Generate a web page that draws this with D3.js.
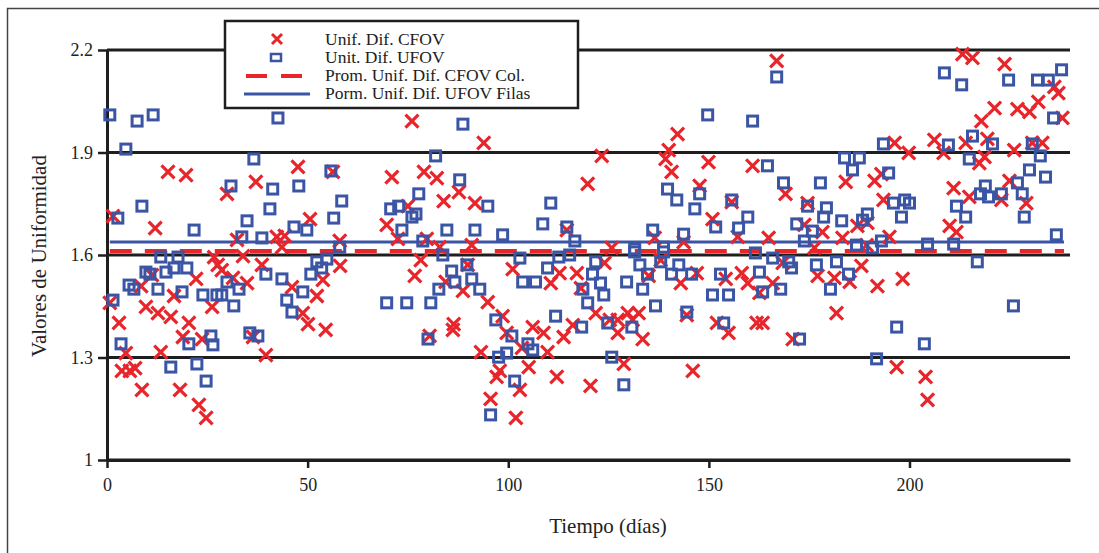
<!DOCTYPE html>
<html lang="es">
<head>
<meta charset="utf-8">
<title>Valores de Uniformidad</title>
<style>
  body { margin: 0; background: #fff; }
  text { font-family: "Liberation Serif", "Times New Roman", serif; fill: #222; }
</style>
</head>
<body>
<script src="https://cdn.jsdelivr.net/npm/d3@7"></script>
<div id="chart"></div>
<script>
// datos: [dia, valor]
const cfovPoints = [
  [15.2,1.843],[19.7,1.834],[47.6,1.858],[37.1,1.814],[29.9,1.779],[1.5,1.714],[12.0,1.679],
  [50.6,1.705],[42.3,1.653],[44.3,1.656],[32.4,1.644],[56.3,1.843],[58.0,1.641],[43.6,1.623],
  [76.0,1.992],[93.9,1.928],[71.0,1.828],[79.0,1.843],[82.2,1.825],[87.7,1.784],[83.9,1.758],
  [91.7,1.752],[75.0,1.743],[69.7,1.688],[72.5,1.647],[79.7,1.647],[82.9,1.623],[90.9,1.629],
  [114.6,1.673],[119.8,1.808],[166.9,2.168],[123.3,1.890],[142.2,1.954],[140.0,1.907],
  [139.2,1.881],[140.7,1.843],[149.9,1.872],[160.9,1.861],[147.7,1.802],[169.1,1.779],
  [155.7,1.755],[150.9,1.705],[174.6,1.752],[173.8,1.688],[157.2,1.653],[164.9,1.650],
  [136.5,1.650],[143.7,1.638],[125.8,1.621],[178.3,1.667],[176.3,1.621],
  [213.2,2.188],[215.7,2.177],[223.7,2.159],[236.1,2.092],[237.1,2.074],[232.1,2.048],
  [229.9,2.019],[226.9,2.027],[221.2,2.030],[217.9,1.992],[238.1,2.001],[196.3,1.928],
  [199.8,1.899],[206.2,1.937],[208.5,1.899],[214.0,1.928],[219.4,1.940],[218.7,1.887],
  [217.4,1.869],[226.1,1.907],[230.6,1.928],[233.1,1.928],[184.1,1.814],[191.3,1.817],
  [193.0,1.837],[193.5,1.761],[211.0,1.796],[214.9,1.770],[222.9,1.761],[224.9,1.817],
  [229.1,1.752],[183.3,1.650],[187.0,1.685],[189.5,1.694],[195.0,1.653],[210.0,1.685],
  [211.7,1.667],[189.3,1.629],
  [26.7,1.594],[33.9,1.597],[27.6,1.571],[28.6,1.556],[38.6,1.571],[22.2,1.530],[34.9,1.518],
  [31.4,1.533],[46.1,1.506],[53.8,1.527],[58.1,1.568],[52.3,1.480],[8.5,1.509],[11.2,1.541],
  [16.7,1.480],[0.7,1.460],[9.7,1.448],[12.7,1.430],[15.9,1.419],[26.2,1.448],[48.8,1.430],
  [50.1,1.398],[54.5,1.381],[3.0,1.401],[20.4,1.401],[18.9,1.360],[23.7,1.354],[36.4,1.360],
  [4.7,1.313],[13.4,1.316],[39.6,1.307],[3.7,1.261],[5.7,1.261],[7.0,1.269],[8.7,1.205],
  [18.2,1.205],[22.9,1.161],[24.7,1.123],
  [78.2,1.585],[76.7,1.539],[84.4,1.521],[88.7,1.495],[89.9,1.571],[94.9,1.462],[101.1,1.559],
  [110.6,1.518],[112.8,1.547],[117.1,1.547],[118.1,1.503],[80.4,1.363],[86.4,1.398],
  [86.2,1.381],[98.6,1.421],[99.6,1.372],[106.1,1.389],[108.8,1.372],[113.8,1.360],
  [116.1,1.395],[93.2,1.316],[103.4,1.328],[109.8,1.316],[97.9,1.261],[97.1,1.243],
  [105.1,1.272],[102.9,1.205],[112.1,1.243],[95.6,1.179],[101.9,1.123],[120.5,1.217],
  [124.0,1.577],[138.0,1.585],[135.0,1.539],[143.0,1.518],[147.0,1.547],[154.2,1.530],
  [158.2,1.547],[159.7,1.518],[162.6,1.489],[165.9,1.518],[168.4,1.577],[177.1,1.539],
  [121.8,1.430],[125.3,1.410],[127.3,1.410],[127.3,1.372],[129.8,1.430],[132.5,1.430],
  [131.0,1.410],[133.5,1.354],[144.5,1.424],[152.0,1.401],[154.9,1.372],[161.9,1.401],
  [163.4,1.401],[170.9,1.354],[128.8,1.281],[146.0,1.261],
  [188.0,1.568],[181.3,1.533],[185.1,1.521],[192.0,1.509],[198.3,1.530],[181.8,1.430],
  [196.8,1.272],[204.0,1.243],[204.5,1.176]
];

const ufovPoints = [
  [0.7,2.010],[7.5,1.992],[11.5,2.010],[42.6,2.001],[4.7,1.910],[36.6,1.881],[55.8,1.846],
  [30.9,1.802],[41.3,1.793],[47.8,1.802],[8.7,1.743],[58.5,1.758],[2.7,1.708],[40.6,1.735],
  [34.9,1.700],[56.5,1.708],[21.7,1.673],[46.6,1.682],[49.8,1.673],[33.6,1.653],[38.6,1.650],
  [58.0,1.623],
  [88.7,1.983],[81.9,1.890],[87.9,1.820],[77.7,1.779],[70.7,1.735],[72.7,1.743],[94.9,1.743],
  [110.6,1.752],[76.0,1.711],[77.0,1.720],[108.6,1.691],[73.5,1.673],[84.7,1.673],[91.7,1.673],
  [98.6,1.659],[114.6,1.682],[116.6,1.641],[78.7,1.641],
  [166.9,2.121],[149.7,2.010],[160.9,1.992],[164.6,1.861],[139.7,1.793],[142.0,1.761],
  [147.7,1.779],[146.5,1.735],[155.7,1.761],[159.7,1.711],[151.7,1.682],[157.4,1.679],
  [136.0,1.673],[143.7,1.661],[131.5,1.618],[138.7,1.623],[168.6,1.811],[177.8,1.811],
  [174.6,1.743],[179.3,1.738],[178.6,1.711],[171.9,1.691],[175.8,1.670],[173.8,1.641],
  [161.6,1.606],
  [208.7,2.133],[213.0,2.098],[224.7,2.112],[231.9,2.112],[234.6,2.112],[237.9,2.142],
  [235.9,2.001],[215.7,1.948],[193.5,1.925],[209.7,1.922],[220.7,1.925],[230.6,1.925],
  [232.6,1.890],[183.8,1.884],[187.5,1.884],[185.8,1.849],[214.9,1.881],[194.8,1.840],
  [229.9,1.849],[233.9,1.828],[218.9,1.802],[217.7,1.779],[219.7,1.770],[222.9,1.779],
  [226.9,1.811],[228.1,1.779],[196.0,1.752],[198.8,1.761],[200.0,1.752],[183.1,1.700],
  [189.5,1.720],[188.3,1.702],[198.0,1.711],[211.7,1.743],[214.0,1.711],[228.6,1.711],
  [236.6,1.659],[186.8,1.629],[190.8,1.621],[193.0,1.641],[204.5,1.632],[211.0,1.632],
  [13.4,1.594],[17.7,1.594],[16.7,1.562],[19.9,1.562],[14.7,1.550],[9.7,1.550],[10.7,1.544],
  [5.5,1.512],[6.7,1.500],[12.7,1.500],[18.7,1.492],[23.9,1.483],[27.4,1.483],[28.6,1.483],
  [29.9,1.521],[32.9,1.500],[31.6,1.451],[39.6,1.544],[43.6,1.530],[50.8,1.544],[52.3,1.580],
  [54.8,1.588],[53.5,1.562],[48.8,1.492],[44.8,1.468],[46.1,1.433],[1.5,1.468],[3.5,1.340],
  [20.4,1.340],[25.9,1.363],[26.4,1.337],[35.6,1.372],[37.6,1.363],[15.9,1.272],[22.4,1.281],
  [24.7,1.231],
  [83.7,1.600],[89.7,1.571],[85.9,1.553],[86.7,1.521],[90.9,1.530],[92.9,1.500],[82.7,1.500],
  [69.7,1.460],[74.7,1.460],[80.7,1.460],[102.9,1.591],[109.8,1.562],[103.6,1.521],
  [106.8,1.521],[112.6,1.594],[115.3,1.600],[118.6,1.500],[111.8,1.421],[119.8,1.460],
  [118.3,1.389],[96.9,1.410],[100.9,1.363],[104.9,1.340],[106.1,1.322],[99.6,1.313],
  [97.6,1.301],[80.0,1.354],[101.6,1.231],[95.6,1.132],
  [121.8,1.580],[121.0,1.544],[123.0,1.518],[123.8,1.483],[132.8,1.571],[138.0,1.580],
  [142.5,1.571],[134.7,1.544],[140.7,1.544],[145.7,1.544],[152.9,1.544],[131.5,1.609],
  [138.7,1.609],[129.5,1.521],[133.5,1.500],[136.7,1.451],[144.5,1.433],[150.9,1.483],
  [154.9,1.483],[162.6,1.550],[165.9,1.591],[169.9,1.580],[170.6,1.562],[176.8,1.571],
  [163.4,1.492],[167.9,1.500],[180.3,1.500],[124.8,1.401],[130.8,1.389],[153.7,1.401],
  [172.6,1.354],[125.8,1.301],[128.8,1.220],
  [181.8,1.580],[184.8,1.544],[196.8,1.389],[203.7,1.340],[191.8,1.296],[216.9,1.580],
  [225.9,1.451]
];

// promedios (linea horizontal de dia inicial a dia final)
const meanDays = [0.7, 238.5];
const meanCfov = 1.612;
const meanUfov = 1.638;

const xTicks = [0, 50, 100, 150, 200];
const yTicks = [1, 1.3, 1.6, 1.9, 2.2];

const legendLabels = [
  "Unif. Dif. CFOV",
  "Unit. Dif. UFOV",
  "Prom. Unif. Dif. CFOV Col.",
  "Porm. Unif. Dif. UFOV Filas"
];

var width = 1099, height = 553;
var red = "#e8252b", blue = "#3b55a5", ink = "#1e1e1e";

var svg = d3.select("#chart").append("svg")
    .attr("width", width)
    .attr("height", height);

// marco de la figura
svg.append("path")
    .attr("d", "M7.5,553 L7.5,8.5 L1099,8.5")
    .attr("fill", "none")
    .attr("stroke", "#444")
    .attr("stroke-width", 1.5);

var x = d3.scaleLinear().domain([0, 240]).range([107, 1070]);
var y = d3.scaleLinear().domain([1, 2.2]).range([460, 50]);

// lineas de rejilla
svg.selectAll(".grid")
    .data(yTicks)
    .enter()
    .append("line")
    .attr("class", "grid")
    .attr("x1", x(0))
    .attr("x2", x(240))
    .attr("y1", function(d) { return y(d); })
    .attr("y2", function(d) { return y(d); })
    .attr("stroke", ink)
    .attr("stroke-width", 3);

// ejes
var yAxis = svg.append("g")
    .attr("transform", "translate(" + x(0) + ",0)")
    .call(d3.axisLeft(y).tickValues(yTicks).tickSize(9).tickSizeOuter(0)
      .tickFormat(function(d) { return d === 1 ? "1" : d3.format(".1f")(d); }));

var xAxis = svg.append("g")
    .attr("transform", "translate(0," + y(1) + ")")
    .call(d3.axisBottom(x).tickValues(xTicks).tickSize(8).tickSizeOuter(0));

[yAxis, xAxis].forEach(function(g) {
  g.select(".domain").attr("stroke", ink).attr("stroke-width", 3);
  g.selectAll(".tick line").attr("stroke", ink).attr("stroke-width", 2.5);
  g.selectAll(".tick text")
    .attr("font-family", "Liberation Serif, serif")
    .attr("font-size", 18)
    .attr("fill", "#222");
});
yAxis.selectAll(".tick text").attr("x", -14);
xAxis.selectAll(".tick text").attr("y", 18);

// titulos de ejes
svg.append("text")
    .attr("x", 608)
    .attr("y", 533)
    .attr("text-anchor", "middle")
    .attr("font-size", 21)
    .text("Tiempo (días)");

svg.append("text")
    .attr("transform", "translate(46,256) rotate(-90)")
    .attr("text-anchor", "middle")
    .attr("font-size", 21)
    .text("Valores de Uniformidad");

// lineas de promedio
svg.append("line")
    .attr("x1", x(meanDays[0])).attr("x2", x(meanDays[1]))
    .attr("y1", y(meanCfov)).attr("y2", y(meanCfov))
    .attr("stroke", red)
    .attr("stroke-width", 4)
    .attr("stroke-dasharray", "22,13");

svg.append("line")
    .attr("x1", x(meanDays[0])).attr("x2", x(meanDays[1]))
    .attr("y1", y(meanUfov)).attr("y2", y(meanUfov))
    .attr("stroke", blue)
    .attr("stroke-width", 3);

// cruces rojas
var s = 6.5;
svg.selectAll(".cfov")
    .data(cfovPoints)
    .enter()
    .append("path")
    .attr("class", "cfov")
    .attr("transform", function(d) { return "translate(" + x(d[0]) + "," + y(d[1]) + ")"; })
    .attr("d", "M" + (-s) + "," + (-s) + "L" + s + "," + s + "M" + (-s) + "," + s + "L" + s + "," + (-s))
    .attr("stroke", red)
    .attr("stroke-width", 3.2)
    .attr("fill", "none");

// cuadros azules
var q = 10;
svg.selectAll(".ufov")
    .data(ufovPoints)
    .enter()
    .append("rect")
    .attr("class", "ufov")
    .attr("x", function(d) { return x(d[0]) - q / 2; })
    .attr("y", function(d) { return y(d[1]) - q / 2; })
    .attr("width", q)
    .attr("height", q)
    .attr("fill", "none")
    .attr("stroke", blue)
    .attr("stroke-width", 3);

// leyenda
var legend = svg.append("g").attr("transform", "translate(225,21)");
legend.append("rect")
    .attr("width", 353)
    .attr("height", 87)
    .attr("fill", "#fff")
    .attr("stroke", ink)
    .attr("stroke-width", 2.5);

legend.append("path")
    .attr("transform", "translate(52,18)")
    .attr("d", "M-5,-5L5,5M-5,5L5,-5")
    .attr("stroke", red).attr("stroke-width", 3).attr("fill", "none");
legend.append("rect")
    .attr("x", 46).attr("y", 33).attr("width", 10).attr("height", 7)
    .attr("fill", "none").attr("stroke", blue).attr("stroke-width", 2.5);
legend.append("line")
    .attr("x1", 21).attr("x2", 79).attr("y1", 55).attr("y2", 55)
    .attr("stroke", red).attr("stroke-width", 4).attr("stroke-dasharray", "21,14");
legend.append("line")
    .attr("x1", 19).attr("x2", 85).attr("y1", 73).attr("y2", 73)
    .attr("stroke", blue).attr("stroke-width", 3);

legend.selectAll(".lab")
    .data(legendLabels)
    .enter()
    .append("text")
    .attr("class", "lab")
    .attr("x", 100)
    .attr("y", function(d, i) { return 24 + i * 18; })
    .attr("font-size", 17.5)
    .text(function(d) { return d; });
</script>
</body>
</html>
